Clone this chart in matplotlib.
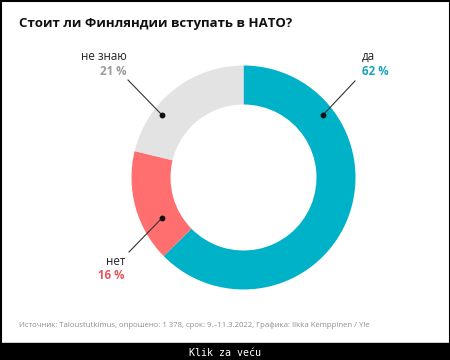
import matplotlib
matplotlib.use("Agg")
import matplotlib.pyplot as plt
from matplotlib.patches import Rectangle

# data
labels = ["да", "нет", "не знаю"]
values = [62, 16, 21]
pct_text = ["62 %", "16 %", "21 %"]
title = "Стоит ли Финляндии вступать в НАТО?"
source = "Источник: Taloustutkimus, опрошено: 1 378, срок: 9.–11.3.2022, Графика: Ilkka Kemppinen / Yle"

colors = ["#00b2c7", "#ff6f6f", "#e3e3e3"]
text_colors = ["#17a3b8", "#e8545c", "#9a9a9a"]

W, H = 450, 360
fig = plt.figure(figsize=(W / 100, H / 100), dpi=100)
ax = fig.add_axes([0, 0, 1, 1])

def Y(y):
    # pixel row -> data y
    return H - y

cx, cy, r = 243.5, 177.5, 112
ax.pie(values, colors=colors, startangle=90, counterclock=False,
       center=(cx, Y(cy)), radius=r,
       wedgeprops=dict(width=39, linewidth=0))
ax.set_xlim(0, W)
ax.set_ylim(0, H)
ax.set_aspect("auto")
ax.axis("off")

font = "Open Sans"

ax.text(19, Y(27), title, fontsize=9.5, fontweight="bold", family=font,
        color="#111111", va="baseline", ha="left")

# label anchors: (x, name baseline, pct baseline, ha), leader line (x0,y0,x1,y1)
lab_pos = [(362, 60, 75, "left"), (125, 265, 279, "right"), (127, 60, 75, "right")]
leaders = [(355, 81, 323, 115), (129, 252, 162, 218), (128, 80, 162, 115)]

for i in range(len(labels)):
    x, yb1, yb2, ha = lab_pos[i]
    ax.text(x, Y(yb1), labels[i], fontsize=8.3, family=font, color="#222222",
            ha=ha, va="baseline")
    ax.text(x, Y(yb2), pct_text[i], fontsize=8.3, family=font, fontweight="bold",
            color=text_colors[i], ha=ha, va="baseline")
    x0, y0, x1, y1 = leaders[i]
    ax.plot([x0, x1], [Y(y0), Y(y1)], color="#333333", lw=0.8)
    ax.plot([x1], [Y(y1)], "o", color="#111111", ms=3.2)

ax.text(19, Y(327), source, fontsize=5.6, family=font, color="#8f8f8f",
        ha="left", va="baseline")

# image host frame and bottom bar
ax.add_patch(Rectangle((0, 0), W, H - 343, color="black", zorder=5))
ax.add_patch(Rectangle((0.5, 0.5), W - 1, H - 1, fill=False, ec="black", lw=1.5, zorder=5))
ax.text(225, Y(353), "Klik za veću", family="DejaVu Sans Mono", fontsize=7.2,
        color="white", ha="center", va="center", zorder=6)

fig.savefig("out.png", dpi=100)
